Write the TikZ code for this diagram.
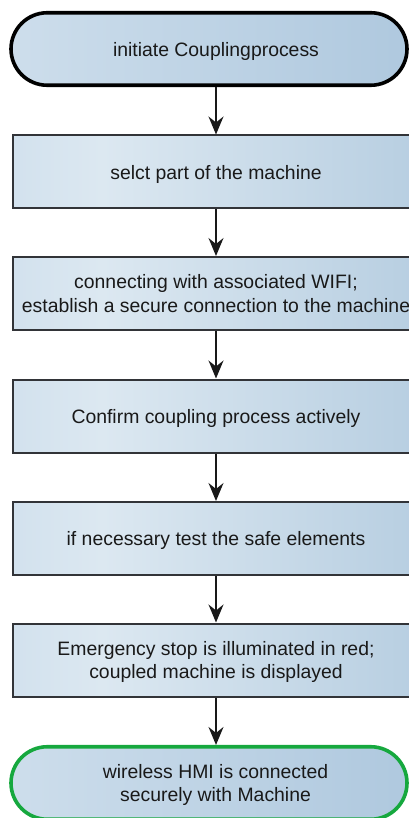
\documentclass[tikz,border=0pt]{standalone}
\usepackage{fontspec}
\setmainfont{Liberation Sans}
\usetikzlibrary{shapes.misc,arrows.meta}

\definecolor{boxL}{RGB}{189,211,230}
\definecolor{boxM}{RGB}{220,232,241}
\definecolor{boxR}{RGB}{160,190,215}
\definecolor{termL}{RGB}{220,232,242}
\definecolor{termR}{RGB}{160,190,216}
\definecolor{edgeGray}{RGB}{50,52,56}
\definecolor{okGreen}{RGB}{22,168,62}
\definecolor{txt}{RGB}{25,25,25}

\pgfdeclarehorizontalshading{boxshade}{100bp}{color(0bp)=(boxL); color(36bp)=(boxM); color(100bp)=(boxR)}
\pgfdeclarehorizontalshading{termshade}{100bp}{color(0bp)=(termL); color(100bp)=(termR)}

\tikzset{
  label font/.style={font=\fontsize{19.4}{23.5}\selectfont, text=txt, align=center, text depth=0pt},
  stepbox/.style={label font, rectangle, shading=boxshade, draw=edgeGray,
    line width=2pt, minimum width=406pt, minimum height=73pt, inner sep=0pt},
  terminal/.style={label font, rounded rectangle, shading=termshade,
    line width=3.6pt, minimum width=396pt, minimum height=72.5pt, inner sep=0pt},
  flow/.style={line width=1.5pt, draw=black!90,
    -{Stealth[length=18pt,width=15pt,inset=6pt]}}
}

\begin{document}
\begin{tikzpicture}[x=1pt,y=-1pt]
  \useasboundingbox (0,0) rectangle (409,818);

  % process steps
  \node[terminal, draw=black] (start) at (209,49)
    {\hspace*{14pt}initiate Couplingprocess};
  \node[stepbox] (s1) at (216,172) {selct part of the machine};
  \node[stepbox] (s2) at (216,293.5)
    {connecting with associated WIFI;\\establish a secure connection to the machine};
  \node[stepbox] (s3) at (216,416) {Confirm coupling process actively};
  \node[stepbox] (s4) at (216,538.5) {if necessary test the safe elements};
  \node[stepbox] (s5) at (216,660)
    {Emergency stop is illuminated in red;\\coupled machine is displayed};
  \node[terminal, draw=okGreen] (done) at (209,783)
    {\hspace*{13pt}wireless HMI is connected\\\hspace*{13pt}securely with Machine};

  % connectors
  \draw[flow] (s1.north |- start.south) -- (s1.north);
  \draw[flow] (s1.south) -- (s2.north);
  \draw[flow] (s2.south) -- (s3.north);
  \draw[flow] (s3.south) -- (s4.north);
  \draw[flow] (s4.south) -- (s5.north);
  \draw[flow] (s5.south) -- (s5.south |- done.north);
\end{tikzpicture}
\end{document}
